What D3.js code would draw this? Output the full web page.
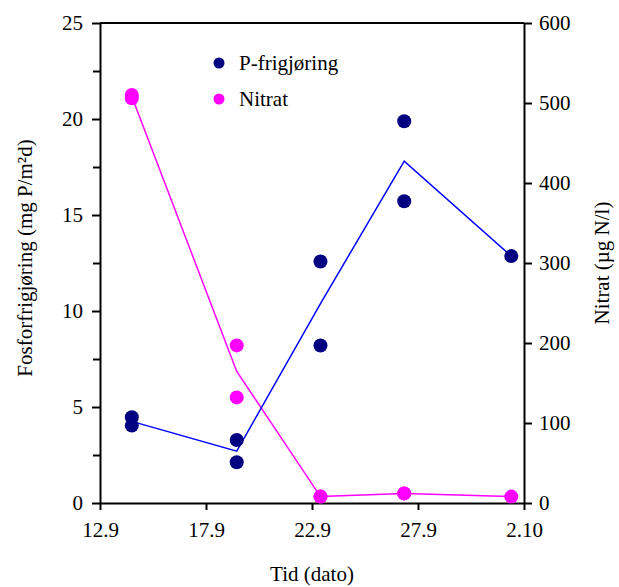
<html>
<head>
<meta charset="utf-8">
<script src="https://d3js.org/d3.v7.js"></script>
<style>
  body { margin: 0; background: #fff; }
</style>
</head>
<body>
<svg width="619" height="587"></svg>
<script>
// x positions are days after 12.9
var tickDays = [0, 5, 10, 15, 20];
var tickLabels = ["12.9", "17.9", "22.9", "27.9", "2.10"];

var sampleDays = [1.5, 1.5, 6.45, 6.45, 10.4, 10.4, 14.35, 14.35, 19.4];
var pValues = [4.47, 4.03, 3.28, 2.12, 12.58, 8.2, 19.88, 15.72, 12.86];
var nitratValues = [510, 506, 197, 132, 8, 8, 12, 12, 8];

var leftTicks = [0, 5, 10, 15, 20, 25];
var leftMinor = [2.5, 7.5, 12.5, 17.5, 22.5];
var rightTicks = [0, 100, 200, 300, 400, 500, 600];

var serif = "'Liberation Serif', 'DejaVu Serif', 'Times New Roman', serif";

var svg = d3.select("svg");
var plotLeft = 100, plotRight = 524, plotTop = 23, plotBottom = 503;

var x = d3.scaleLinear().domain([0, 20]).range([plotLeft, plotRight]);
var yP = d3.scaleLinear().domain([0, 25]).range([plotBottom, plotTop]);
var yN = d3.scaleLinear().domain([0, 600]).range([plotBottom, plotTop]);

// frame top line
svg.append("line")
  .attr("x1", plotLeft).attr("x2", plotRight).attr("y1", plotTop).attr("y2", plotTop)
  .attr("stroke", "#000").attr("stroke-width", 2);

function styleAxis(g) {
  g.attr("font-family", serif).attr("font-size", 21);
  g.select(".domain").attr("stroke-width", 2);
  g.selectAll(".tick line").attr("stroke-width", 2);
  g.selectAll(".tick text").style("font-family", serif).style("font-size", "21px");
}

var xAxis = svg.append("g").attr("transform", "translate(0," + plotBottom + ")")
  .call(d3.axisBottom(x).tickValues(tickDays).tickSize(7).tickSizeOuter(0).tickPadding(12)
    .tickFormat(function(d, i) { return tickLabels[i]; }));
styleAxis(xAxis);

var yAxisL = svg.append("g").attr("transform", "translate(" + plotLeft + ",0)")
  .call(d3.axisLeft(yP).tickValues(leftTicks).tickSize(8).tickSizeOuter(0).tickPadding(9));
styleAxis(yAxisL);
svg.append("g").attr("transform", "translate(" + plotLeft + ",0)")
  .call(d3.axisLeft(yP).tickValues(leftMinor).tickSize(7).tickFormat(""))
  .call(function(g) { g.select(".domain").remove(); g.selectAll("line").attr("stroke-width", 2); });

var yAxisR = svg.append("g").attr("transform", "translate(" + plotRight + ",0)")
  .call(d3.axisRight(yN).tickValues(rightTicks).tickSize(8).tickSizeOuter(0).tickPadding(7));
styleAxis(yAxisR);

// axis titles
svg.append("text")
  .attr("transform", "translate(" + x(10) + ",581)")
  .attr("text-anchor", "middle").style("font-family", serif).style("font-size", "21px")
  .text("Tid (dato)");

svg.append("text")
  .attr("transform", "translate(32," + ((plotTop + plotBottom) / 2 - 5) + ") rotate(-90)")
  .attr("text-anchor", "middle").style("font-family", serif).style("font-size", "21px")
  .text("Fosforfrigjøring (mg P/m²d)");

svg.append("text")
  .attr("transform", "translate(609," + ((plotTop + plotBottom) / 2) + ") rotate(-90)")
  .attr("text-anchor", "middle").style("font-family", serif).style("font-size", "21px")
  .text("Nitrat (µg N/l)");

// means per date for lines
function means(values) {
  var r = d3.rollups(d3.range(sampleDays.length), function(idx) {
    return d3.mean(idx, function(i) { return values[i]; });
  }, function(i) { return sampleDays[i]; });
  return r.sort(function(a, b) { return a[0] - b[0]; });
}

var lineP = d3.line().x(function(d) { return x(d[0]); }).y(function(d) { return yP(d[1]); });
var lineN = d3.line().x(function(d) { return x(d[0]); }).y(function(d) { return yN(d[1]); });

svg.append("path").datum(means(nitratValues))
  .attr("d", lineN).attr("fill", "none").attr("stroke", "#ff00ff").attr("stroke-width", 1.5);
svg.append("path").datum(means(pValues))
  .attr("d", lineP).attr("fill", "none").attr("stroke", "#0000ff").attr("stroke-width", 1.5);

svg.append("g").selectAll("circle").data(nitratValues).join("circle")
  .attr("cx", function(d, i) { return x(sampleDays[i]); })
  .attr("cy", function(d) { return yN(d); })
  .attr("r", 7).attr("fill", "#ff00ff");

svg.append("g").selectAll("circle").data(pValues).join("circle")
  .attr("cx", function(d, i) { return x(sampleDays[i]); })
  .attr("cy", function(d) { return yP(d); })
  .attr("r", 7).attr("fill", "#000080");

// legend
var legend = [["P-frigjøring", "#000080"], ["Nitrat", "#ff00ff"]];
var lg = svg.append("g").selectAll("g").data(legend).join("g")
  .attr("transform", function(d, i) { return "translate(219," + (63 + i * 36) + ")"; });
lg.append("circle").attr("r", 5.5).attr("fill", function(d) { return d[1]; });
lg.append("text").attr("x", 20).attr("dy", "0.35em")
  .style("font-family", serif).style("font-size", "21px")
  .text(function(d) { return d[0]; });
</script>
</body>
</html>
